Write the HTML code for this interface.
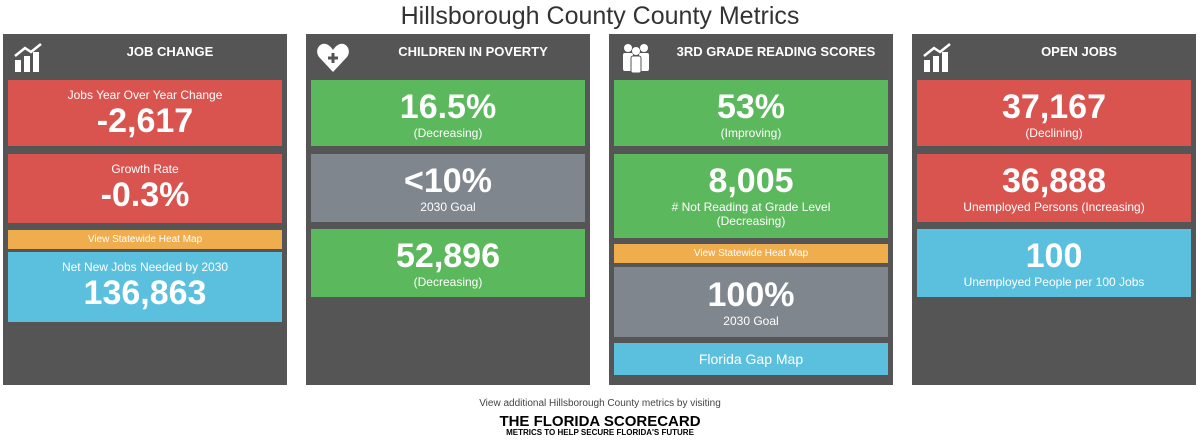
<!DOCTYPE html>
<html><head><meta charset="utf-8"><style>
*{margin:0;padding:0;box-sizing:border-box}
body{width:1200px;height:440px;background:#fff;font-family:"Liberation Sans",sans-serif;position:relative;overflow:hidden}
.title{position:absolute;top:2px;left:0;width:1200px;text-align:center;font-size:25px;color:#333}
.panel{position:absolute;top:34px;width:284px;height:351px;background:#555}
.ph{position:absolute;top:10px;left:60px;right:10px;text-align:center;color:#fff;font-weight:bold;font-size:13px;font-family:"Liberation Sans Narrow","Liberation Sans",sans-serif}
.icon{position:absolute;left:10px;top:8px}
.tile{position:absolute;left:5px;width:274px;color:#fff;text-align:center;font-family:"Liberation Sans Narrow","Liberation Sans",sans-serif}
.red{background:#d9534f}.green{background:#5cb85c}.gray{background:#80868d}.blue{background:#5bc0de}.orange{background:#f0ad4e}
.big{font-family:"Liberation Sans",sans-serif;font-weight:bold;font-size:34px;line-height:38px}
.sm{font-size:12px;line-height:14px}
.foot{position:absolute;top:398px;width:1200px;text-align:center;font-size:10px;color:#444}
.logo{position:absolute;top:415px;width:1200px;text-align:center;font-weight:900;font-size:15px;line-height:14px;color:#000}
.logo2{position:absolute;top:428px;width:1200px;text-align:center;font-weight:bold;font-size:8px;color:#000}
</style></head><body>
<div class="title">Hillsborough County County Metrics</div>

<div class="panel" style="left:3px">
<svg class="icon" width="32" height="32"><rect x="2" y="18" width="6" height="12" fill="#fff"/><rect x="11" y="14" width="6" height="16" fill="#fff"/><rect x="20" y="10" width="6" height="20" fill="#fff"/><path d="M2 14 L12 6 L18 10 L28 2" stroke="#fff" stroke-width="2.5" fill="none"/></svg>
<div class="ph">JOB CHANGE</div>
<div class="tile red" style="top:46px;height:66px"><div class="sm" style="margin-top:8px">Jobs Year Over Year Change</div><div class="big">-2,617</div></div>
<div class="tile red" style="top:120px;height:69px"><div class="sm" style="margin-top:8px">Growth Rate</div><div class="big">-0.3%</div></div>
<div class="tile orange" style="top:196px;height:19px;font-size:10px;line-height:19px">View Statewide Heat Map</div>
<div class="tile blue" style="top:218px;height:70px"><div class="sm" style="margin-top:8px">Net New Jobs Needed by 2030</div><div class="big">136,863</div></div>
</div>

<div class="panel" style="left:306px">
<svg class="icon" width="34" height="32"><path d="M17 30 L3 15 C-2 8 4 0 10 2 C13 3 15 5 17 8 C19 5 21 3 24 2 C30 0 36 8 31 15 Z" fill="#fff"/><path d="M17 11 V21 M12 16 H22" stroke="#555" stroke-width="3"/></svg>
<div class="ph">CHILDREN IN POVERTY</div>
<div class="tile green" style="top:46px;height:66px"><div class="big" style="margin-top:8px">16.5%</div><div class="sm">(Decreasing)</div></div>
<div class="tile gray" style="top:120px;height:68px"><div class="big" style="margin-top:8px">&lt;10%</div><div class="sm">2030 Goal</div></div>
<div class="tile green" style="top:195px;height:68px"><div class="big" style="margin-top:8px">52,896</div><div class="sm">(Decreasing)</div></div>
</div>

<div class="panel" style="left:609px">
<svg class="icon" width="34" height="32"><circle cx="9" cy="6" r="4" fill="#fff"/><circle cx="25" cy="6" r="4" fill="#fff"/><circle cx="17" cy="9" r="4" fill="#fff"/><rect x="4" y="11" width="10" height="18" rx="2" fill="#fff"/><rect x="20" y="11" width="10" height="18" rx="2" fill="#fff"/><rect x="12" y="14" width="10" height="17" rx="2" fill="#fff" stroke="#555"/></svg>
<div class="ph">3RD GRADE READING SCORES</div>
<div class="tile green" style="top:46px;height:66px"><div class="big" style="margin-top:8px">53%</div><div class="sm">(Improving)</div></div>
<div class="tile green" style="top:120px;height:84px"><div class="big" style="margin-top:8px">8,005</div><div class="sm"># Not Reading at Grade Level<br>(Decreasing)</div></div>
<div class="tile orange" style="top:210px;height:19px;font-size:10px;line-height:19px">View Statewide Heat Map</div>
<div class="tile gray" style="top:233px;height:70px"><div class="big" style="margin-top:9px">100%</div><div class="sm">2030 Goal</div></div>
<div class="tile blue" style="top:309px;height:32px;font-size:14px;line-height:32px;font-family:'Liberation Sans',sans-serif">Florida Gap Map</div>
</div>

<div class="panel" style="left:912px">
<svg class="icon" width="32" height="32"><rect x="2" y="18" width="6" height="12" fill="#fff"/><rect x="11" y="14" width="6" height="16" fill="#fff"/><rect x="20" y="10" width="6" height="20" fill="#fff"/><path d="M2 14 L12 6 L18 10 L28 2" stroke="#fff" stroke-width="2.5" fill="none"/></svg>
<div class="ph">OPEN JOBS</div>
<div class="tile red" style="top:46px;height:66px"><div class="big" style="margin-top:8px">37,167</div><div class="sm">(Declining)</div></div>
<div class="tile red" style="top:120px;height:68px"><div class="big" style="margin-top:8px">36,888</div><div class="sm">Unemployed Persons (Increasing)</div></div>
<div class="tile blue" style="top:195px;height:68px"><div class="big" style="margin-top:8px">100</div><div class="sm">Unemployed People per 100 Jobs</div></div>
</div>

<div class="foot">View additional Hillsborough County metrics by visiting</div>
<div class="logo">THE FLORIDA SCORECARD</div>
<div class="logo2">METRICS TO HELP SECURE FLORIDA'S FUTURE</div>
</body></html>
